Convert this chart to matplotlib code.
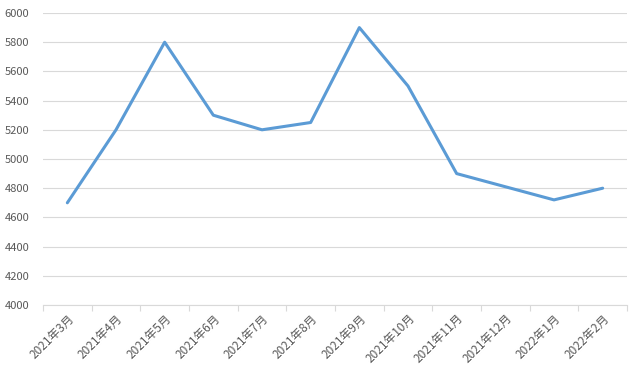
import matplotlib
matplotlib.use("Agg")
import matplotlib.pyplot as plt
import numpy as np

plt.rcParams['font.family'] = ['Noto Sans CJK SC', 'DejaVu Sans']

months = ["2021年3月", "2021年4月", "2021年5月", "2021年6月", "2021年7月", "2021年8月",
          "2021年9月", "2021年10月", "2021年11月", "2021年12月", "2022年1月", "2022年2月"]
values = [4700, 5200, 5800, 5300, 5200, 5250, 5900, 5500, 4900, 4810, 4720, 4800]
yticks = [4000, 4200, 4400, 4600, 4800, 5000, 5200, 5400, 5600, 5800, 6000]

fig = plt.figure(figsize=(6.38, 3.72), dpi=100)
ax = fig.add_axes([43/638, 1-305/372, 584/638, 292/372])

x = np.arange(len(months))
ax.plot(x, values, color="#5B9BD5", linewidth=2.2, solid_capstyle="round", zorder=3)

ax.set_xlim(-0.5, len(months) - 0.5)
ax.set_ylim(4000, 6000)
ax.set_yticks(yticks)
ax.set_yticklabels([str(v) for v in yticks], fontsize=8, color="#595959")
ax.grid(axis="y", color="#D9D9D9", linewidth=0.8)
ax.set_axisbelow(True)

for s in ["top", "right", "left"]:
    ax.spines[s].set_visible(False)
ax.spines["bottom"].set_color("#D9D9D9")
ax.spines["bottom"].set_linewidth(0.8)

ax.tick_params(axis="y", length=0, pad=10)
ax.set_xticks(np.arange(-0.5, len(months) + 0.5, 1.0), minor=False)
ax.set_xticklabels([""] * (len(months) + 1))
ax.tick_params(axis="x", which="major", length=4, color="#D9D9D9", width=0.8)
ax.set_xticks(x, minor=True)
ax.set_xticklabels(months, minor=True, rotation=45, ha="right", rotation_mode="anchor",
                   fontsize=8.5, color="#595959")
ax.tick_params(axis="x", which="minor", length=0, pad=5)

fig.savefig("out.png", dpi=100)
